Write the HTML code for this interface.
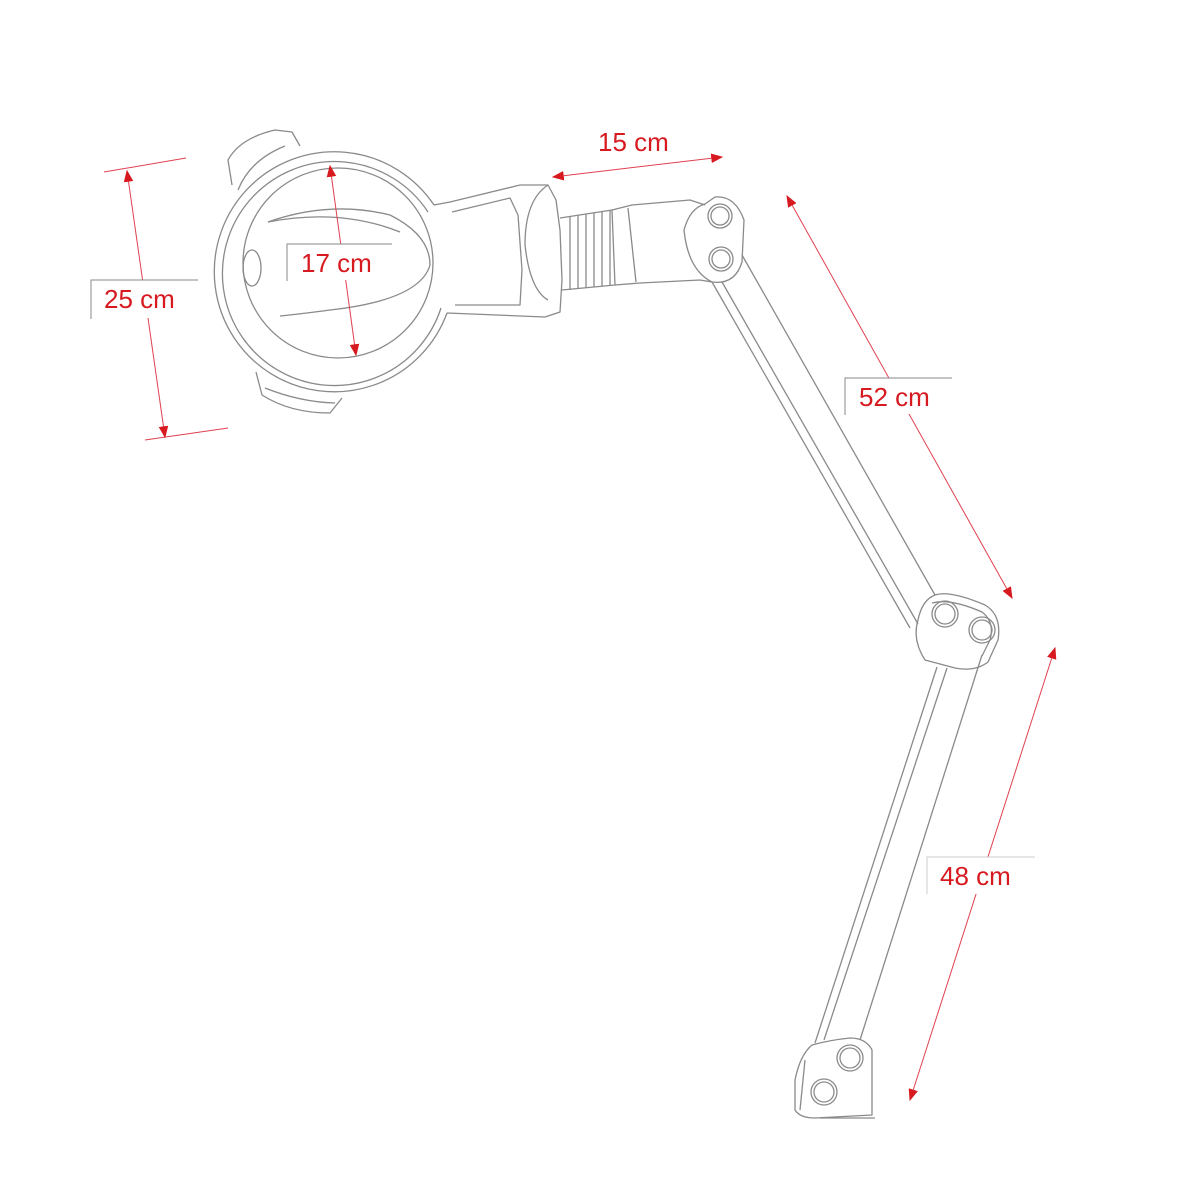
<!DOCTYPE html>
<html><head><meta charset="utf-8"><style>
html,body{margin:0;padding:0;background:#fff}
svg{display:block}
text{font-family:"Liberation Sans",sans-serif;font-size:26px;fill:#d71920}
</style></head><body>
<svg width="1200" height="1200" viewBox="0 0 1200 1200" xmlns="http://www.w3.org/2000/svg">
<defs>
<marker id="a" viewBox="0 0 10 10" refX="9" refY="5" markerWidth="12" markerHeight="12" markerUnits="userSpaceOnUse" orient="auto-start-reverse"><path d="M0,1 L10,5 L0,9 Z" fill="#d71920"/></marker>
</defs>
<g fill="none" stroke="#8a8a8a" stroke-width="1.3" stroke-linejoin="round">
<!-- head -->
<path d="M434,205 A120,120 0 1 0 447,313"/>
<path d="M428,212 A112,112 0 1 0 441,308"/>
<circle cx="338" cy="263" r="95"/>
<path d="M232,185 L228,160 Q240,138 275,130 L292,132 L300,146"/>
<path d="M238,190 Q250,160 285,146"/>
<path d="M256,372 L262,395 Q290,413 330,413 L342,398"/>
<path d="M265,388 Q300,402 335,403"/>
<ellipse cx="252" cy="268" rx="9" ry="18"/>
<path d="M268,222 Q330,200 390,215 Q430,235 430,265 Q420,300 330,310 Q300,314 280,316"/>
<path d="M268,222 Q340,208 400,232"/>
<!-- neck -->
<path d="M434,205 L450,202 L520,185 L548,185 L556,200 L560,230 L562,280 L560,312 L545,317 L447,313"/>
<path d="M452,212 L510,198 L518,215 L522,270 L520,305 L455,305"/>
<path d="M548,185 Q525,200 525,245 Q530,290 548,300"/>
<!-- thread -->
<path d="M560,218 L612,210 L615,285 L562,290"/>
<path d="M570,216 L570,290 M578,215 L578,289 M586,214 L586,288 M594,213 L594,287 M602,212 L602,286 M610,211 L610,285"/>
<!-- tube -->
<path d="M612,210 L632,205 L690,200 L705,205 M615,285 L640,283 L700,280 L712,282"/>
<path d="M628,208 L636,282"/>
<!-- joint 1 -->
<path d="M705,204 Q690,208 684,230 Q688,270 712,282 Q735,285 742,262 L744,220 Q735,195 715,197 Z"/>
<circle cx="720" cy="216" r="12"/><circle cx="720" cy="216" r="9"/>
<circle cx="721" cy="259" r="12"/><circle cx="721" cy="259" r="9"/>
<!-- upper arm -->
<path d="M742,255 L935,595"/>
<path d="M712,282 L910,628"/>
<path d="M722,282 L918,624"/>
<!-- joint 2 -->
<path d="M935,595 Q950,590 985,605 Q1002,615 998,640 L988,662 Q975,672 955,668 L925,660 Q912,640 918,620 Q922,600 935,595 Z"/>
<path d="M932,603 Q950,598 982,612 Q995,622 990,640 L982,656"/>
<circle cx="945" cy="614" r="13"/><circle cx="945" cy="614" r="10"/>
<circle cx="982" cy="630" r="13"/><circle cx="982" cy="630" r="10"/>
<!-- lower arm -->
<path d="M937,667 L815,1043"/>
<path d="M947,668 L824,1040"/>
<path d="M982,655 L860,1040"/>
<!-- base -->
<path d="M812,1045 Q800,1055 795,1080 L795,1110 Q800,1118 815,1118 L872,1115 L872,1050 Q866,1038 850,1038 Q830,1040 812,1045 Z"/>
<path d="M805,1060 L800,1110"/>
<path d="M820,1118 L875,1118"/>
<circle cx="850" cy="1058" r="13"/><circle cx="850" cy="1058" r="10"/>
<circle cx="824" cy="1092" r="13"/><circle cx="824" cy="1092" r="10"/>
</g>
<!-- dimensions -->
<g stroke="#e04050" stroke-width="1" fill="none">
<line x1="104" y1="172" x2="186" y2="158"/>
<line x1="145" y1="440" x2="228" y2="428"/>
<line x1="127" y1="171" x2="165" y2="437" marker-start="url(#a)" marker-end="url(#a)"/>
<line x1="330" y1="166" x2="356" y2="355" marker-start="url(#a)" marker-end="url(#a)"/>
<line x1="553" y1="177" x2="722" y2="157" marker-start="url(#a)" marker-end="url(#a)"/>
<line x1="787" y1="196" x2="1012" y2="598" marker-start="url(#a)" marker-end="url(#a)"/>
<line x1="1055" y1="648" x2="910" y2="1100" marker-start="url(#a)" marker-end="url(#a)"/>
</g>
<g>
<rect x="91" y="280" width="107" height="38" fill="#fff"/>
<path d="M91,319 L91,280 L198,280" stroke="#888" stroke-width="1" fill="none"/>
<text x="104" y="308">25 cm</text>
<rect x="287" y="244" width="105" height="36" fill="#fff"/>
<path d="M287,281 L287,244 L392,244" stroke="#888" stroke-width="1" fill="none"/>
<text x="301" y="272">17 cm</text>
<text x="598" y="151">15 cm</text>
<rect x="845" y="378" width="107" height="36" fill="#fff"/>
<path d="M845,415 L845,378 L952,378" stroke="#888" stroke-width="1" fill="none"/>
<text x="859" y="406">52 cm</text>
<rect x="927" y="857" width="108" height="37" fill="#fff"/>
<path d="M927,894 L927,857 L1035,857" stroke="#ccc" stroke-width="1" fill="none"/>
<text x="940" y="885">48 cm</text>
</g>
</svg>
</body></html>
